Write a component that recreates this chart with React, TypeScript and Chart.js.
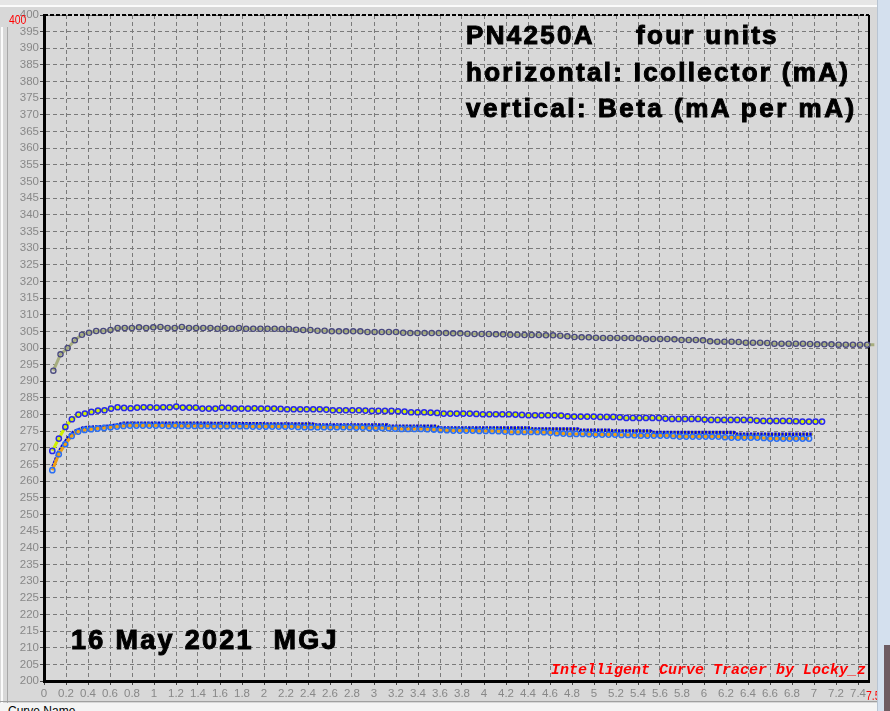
import React, { useEffect, useRef } from "react";
import { Chart, registerables } from "chart.js";

Chart.register(...registerables);

// ---- axes ----
const X_MIN = 0;
const X_MAX = 7.5;
const X_STEP = 0.2;
const Y_MIN = 200;
const Y_MAX = 400;
const Y_STEP = 5;

// ---- unit 1 (top curve, olive line) : Ic sampling start/step (mA), beta values ----
const UNIT1_IC_START = 0.085;
const UNIT1_IC_STEP = 0.0649;
const UNIT1_BETA = [
  293.2, 298.1, 300.0, 302.3, 304.0, 304.6, 305.1, 305.1, 305.4, 306.0,
  306.0, 306.0, 306.2, 306.0, 306.2, 306.3, 306.0, 306.0, 306.3, 306.0,
  306.0, 306.0, 306.0, 305.8, 306.0, 305.8, 306.0, 305.8, 305.8, 305.8,
  305.8, 305.8, 305.7, 305.7, 305.5, 305.4, 305.4, 305.2, 305.2, 305.0,
  305.0, 305.0, 305.0, 305.0, 304.8, 304.8, 304.8, 304.8, 304.8, 304.6,
  304.5, 304.5, 304.5, 304.5, 304.5, 304.5, 304.4, 304.4, 304.3, 304.2,
  304.2, 304.2, 304.1, 304.1, 304.0, 304.0, 303.9, 303.9, 303.9, 303.8,
  303.8, 303.7, 303.5, 303.3, 303.2, 303.2, 303.1, 303.0, 303.0, 303.0,
  303.0, 303.0, 302.9, 302.7, 302.7, 302.7, 302.7, 302.6, 302.4, 302.4,
  302.4, 302.3, 302.0, 301.9, 301.9, 301.9, 301.8, 301.6, 301.6, 301.6,
  301.5, 301.3, 301.3, 301.3, 301.3, 301.3, 301.2, 301.1, 301.1, 301.1,
  301.0, 301.0, 301.0, 301.0, 301.0, 301.0,
];

// ---- unit 2 (yellow-green line) ----
const UNIT2_IC_START = 0.0756;
const UNIT2_IC_STEP = 0.0593;
const UNIT2_BETA = [
  269.1, 272.8, 276.3, 278.6, 280.0, 280.3, 280.8, 281.2, 281.3, 281.8,
  282.2, 282.0, 281.9, 282.1, 282.2, 282.2, 282.1, 282.2, 282.2, 282.4,
  282.1, 282.1, 282.1, 281.8, 281.8, 281.8, 282.1, 282.0, 281.8, 281.8,
  281.8, 281.9, 281.8, 281.8, 281.8, 281.7, 281.6, 281.6, 281.6, 281.6,
  281.6, 281.6, 281.5, 281.3, 281.3, 281.3, 281.3, 281.3, 281.2, 281.1,
  281.1, 281.1, 281.1, 281.0, 280.9, 280.7, 280.7, 280.7, 280.6, 280.5,
  280.3, 280.3, 280.3, 280.3, 280.3, 280.2, 280.1, 280.1, 280.1, 280.1,
  280.1, 280.0, 279.9, 279.8, 279.8, 279.8, 279.8, 279.8, 279.7, 279.5,
  279.4, 279.4, 279.4, 279.4, 279.3, 279.3, 279.3, 279.2, 279.0, 279.0,
  279.0, 279.0, 279.0, 279.0, 278.8, 278.7, 278.7, 278.7, 278.7, 278.7,
  278.5, 278.4, 278.4, 278.4, 278.4, 278.4, 278.4, 278.4, 278.2, 278.1,
  278.1, 278.1, 278.1, 278.1, 278.0, 277.9, 277.9, 277.9, 277.9,
];

// ---- unit 3 (orange line) ----
const UNIT3_IC_START = 0.0756;
const UNIT3_IC_STEP = 0.0588;
const UNIT3_BETA = [
  263.3, 268.1, 271.1, 273.6, 274.9, 275.4, 275.6, 275.8, 276.0, 276.2,
  276.4, 276.6, 276.7, 276.7, 276.7, 276.7, 276.7, 276.7, 276.6, 276.7,
  276.6, 276.6, 276.6, 276.6, 276.6, 276.5, 276.5, 276.5, 276.5, 276.5,
  276.5, 276.4, 276.4, 276.4, 276.4, 276.4, 276.4, 276.4, 276.3, 276.2,
  276.2, 276.2, 276.2, 276.2, 276.2, 276.2, 276.2, 276.1, 276.1, 276.0,
  276.0, 276.0, 275.9, 275.8, 275.7, 275.7, 275.7, 275.7, 275.6, 275.5,
  275.4, 275.3, 275.2, 275.2, 275.2, 275.2, 275.1, 275.1, 275.1, 275.0,
  274.9, 274.8, 274.8, 274.8, 274.8, 274.8, 274.7, 274.6, 274.4, 274.3,
  274.2, 274.2, 274.2, 274.1, 274.0, 274.0, 274.0, 274.0, 273.9, 273.9,
  273.8, 273.7, 273.7, 273.7, 273.7, 273.7, 273.6, 273.4, 273.4, 273.4,
  273.4, 273.4, 273.4, 273.4, 273.2, 273.1, 273.1, 273.1, 273.1, 273.1,
  273.0, 272.8, 272.8, 272.8, 272.8, 272.8, 272.8, 272.8,
];

// ---- unit 4 (blue dashed line) ----
const UNIT4_IC = [
  0.082, 0.112, 0.137, 0.167, 0.198, 0.228, 0.273, 0.31, 0.355, 0.401,
  0.508, 0.61, 0.665, 0.72, 0.98, 1.41, 2.05, 2.44, 2.46, 3.12,
  3.14, 3.57, 3.59, 4.42, 4.44, 4.85, 4.87, 5.15, 5.17, 5.51,
  5.53, 6.27, 6.29, 6.99,
];
const UNIT4_BETA = [
  264.4, 266.9, 268.9, 270.5, 272.0, 273.4, 274.9, 275.4, 276.0, 276.2,
  276.3, 276.6, 276.9, 277.4, 277.4, 277.4, 277.2, 277.2, 276.9, 276.9,
  276.5, 276.5, 276.0, 276.0, 275.7, 275.7, 275.3, 275.3, 275.1, 275.1,
  274.6, 274.6, 274.1, 274.1,
];

// ---- texts ----
const TITLE_PART = "PN4250A";
const TITLE_UNITS = "four units";
const LINE_H = "horizontal: Icollector (mA)";
const LINE_V = "vertical: Beta (mA per mA)";
const DATE_TEXT = "16 May 2021  MGJ";
const CREDIT_TEXT = "Intelligent Curve Tracer by Locky_z";
const Y_MAX_LABEL = "400";
const X_MAX_LABEL = "7.5";
const STATUS_TEXT = "Curve Name";

const sampled = (start: number, step: number, beta: number[]) =>
  beta.map((b, i) => ({ x: start + i * step, y: b }));

const paired = (xs: number[], ys: number[]) => xs.map((x, i) => ({ x, y: ys[i] }));

const framePlugin = {
  id: "frame",
  beforeDatasetsDraw(chart: any) {
    const { ctx, chartArea } = chart;
    const { left, right, top, bottom } = chartArea;
    ctx.save();
    ctx.strokeStyle = "#000";
    ctx.lineWidth = 2;
    ctx.setLineDash([4, 2]);
    ctx.beginPath();
    ctx.moveTo(left, top);
    ctx.lineTo(right, top);
    ctx.stroke();
    ctx.setLineDash([]);
    ctx.beginPath();
    ctx.moveTo(right, top);
    ctx.lineTo(right, bottom + 1);
    ctx.stroke();
    ctx.restore();
  },
};

const TICK_FONT = { family: '"Liberation Sans", Arial, sans-serif', size: 11.5, lineHeight: 1 };

export default function App() {
  const ref = useRef<HTMLCanvasElement | null>(null);

  useEffect(() => {
    const canvas = ref.current;
    if (!canvas) return;
    const chart = new Chart(canvas, {
      type: "line",
      data: {
        datasets: [
          {
            label: "unit 3",
            data: sampled(UNIT3_IC_START, UNIT3_IC_STEP, UNIT3_BETA),
            borderColor: "#f0a010",
            borderWidth: 3,
            pointRadius: 2.6,
            pointBorderWidth: 1.5,
            pointBorderColor: "#2a6ef2",
            pointBackgroundColor: "rgba(0,0,0,0)",
            tension: 0,
          },
          {
            label: "unit 4",
            data: paired(UNIT4_IC, UNIT4_BETA),
            borderColor: "#0808d8",
            borderWidth: 3.5,
            borderDash: [2.5, 1],
            pointRadius: 0,
            tension: 0,
          },
          {
            label: "unit 4 under",
            data: paired(UNIT4_IC, UNIT4_BETA),
            borderColor: "#e4e400",
            borderWidth: 2,
            pointRadius: 0,
            tension: 0,
          },
          {
            label: "unit 2",
            data: sampled(UNIT2_IC_START, UNIT2_IC_STEP, UNIT2_BETA),
            borderColor: "#cfef00",
            borderWidth: 3,
            pointRadius: 2.6,
            pointBorderWidth: 1.5,
            pointBorderColor: "#2828e6",
            pointBackgroundColor: "rgba(0,0,0,0)",
            tension: 0,
          },
          {
            label: "unit 1",
            data: sampled(UNIT1_IC_START, UNIT1_IC_STEP, UNIT1_BETA),
            borderColor: "#a6ad7e",
            borderWidth: 3,
            pointRadius: 2.6,
            pointBorderWidth: 1.3,
            pointBorderColor: "#48487e",
            pointBackgroundColor: "rgba(0,0,0,0)",
            tension: 0,
            clip: { left: 5, top: 5, right: 12, bottom: 5 },
          },
        ] as any,
      },
      options: {
        animation: false,
        responsive: false,
        maintainAspectRatio: false,
        devicePixelRatio: 1,
        events: [],
        layout: { padding: { left: 0, right: 21, top: 15, bottom: 0 } },
        plugins: {
          legend: { display: false },
          tooltip: { enabled: false },
          title: { display: false },
        },
        scales: {
          x: {
            type: "linear",
            min: X_MIN,
            max: X_MAX,
            ticks: {
              stepSize: X_STEP,
              autoSkip: false,
              maxRotation: 0,
              minRotation: 0,
              includeBounds: false,
              color: "#888888",
              font: TICK_FONT,
              padding: 3,
              callback: (v: any) => String(Math.round(Number(v) * 10) / 10),
            },
            grid: {
              color: "#7a7a7a",
              lineWidth: 1,
              tickLength: 4,
              tickColor: "#444",
              tickBorderDash: [],
            },
            border: { color: "#000", width: 3, dash: [4, 3] },
            afterFit: (s: any) => {
              s.height = 30;
            },
          },
          y: {
            type: "linear",
            min: Y_MIN,
            max: Y_MAX,
            ticks: {
              stepSize: Y_STEP,
              autoSkip: false,
              color: "#888888",
              font: TICK_FONT,
              padding: 1,
            },
            grid: {
              color: "#7a7a7a",
              lineWidth: 1,
              tickLength: 4,
              tickColor: "#444",
              tickBorderDash: [],
            },
            border: { color: "#000", width: 3, dash: [4, 3] },
            afterFit: (s: any) => {
              s.width = 44;
            },
          },
        },
      } as any,
      plugins: [framePlugin],
    });
    return () => chart.destroy();
  }, []);

  const bold26: React.CSSProperties = {
    position: "absolute",
    fontFamily: '"Liberation Sans", Arial, sans-serif',
    fontWeight: 700,
    fontSize: 26,
    lineHeight: "30px",
    letterSpacing: "2.3px",
    color: "#000",
    whiteSpace: "pre",
    WebkitTextStroke: "1px #000",
  };

  return (
    <div
      style={{
        position: "fixed",
        left: 0,
        top: 0,
        width: 890,
        height: 711,
        background: "#d8d8d8",
        overflow: "hidden",
      }}
    >
      {/* window chrome */}
      <div style={{ position: "absolute", left: 0, top: 0, width: 890, height: 5, background: "#e6e6e6" }} />
      <div style={{ position: "absolute", left: 0, top: 5, width: 890, height: 2, background: "#fbfbfb" }} />
      <div style={{ position: "absolute", left: 1, top: 27, width: 2, height: 676, background: "#fbfbfb" }} />
      <div style={{ position: "absolute", left: 7, top: 27, width: 1, height: 676, background: "#a8a8a8" }} />
      <canvas
        ref={ref}
        width={890}
        height={711}
        style={{ position: "absolute", left: 0, top: 0, width: 890, height: 711 }}
      />
      <div style={{ ...bold26, left: 466, top: 20.3 }}>{TITLE_PART}</div>
      <div style={{ ...bold26, left: 636, top: 20.3 }}>{TITLE_UNITS}</div>
      <div style={{ ...bold26, left: 466, top: 56.5 }}>{LINE_H}</div>
      <div style={{ ...bold26, left: 466, top: 92.7, letterSpacing: "2.5px" }}>{LINE_V}</div>
      <div style={{ ...bold26, fontSize: 27, left: 71, top: 625 }}>{DATE_TEXT}</div>
      <div
        style={{
          position: "absolute",
          left: 551,
          top: 661.5,
          fontFamily: '"Liberation Mono", "Courier New", monospace',
          fontWeight: 700,
          fontStyle: "italic",
          fontSize: 15,
          lineHeight: "17px",
          color: "#ff0000",
          whiteSpace: "pre",
        }}
      >
        {CREDIT_TEXT}
      </div>
      <div
        style={{
          position: "absolute",
          left: 9,
          top: 13.3,
          fontFamily: '"Liberation Sans", Arial, sans-serif',
          fontSize: 13,
          lineHeight: "13px",
          color: "#ff0000",
          transform: "scaleX(0.8)",
          transformOrigin: "left top",
        }}
      >
        {Y_MAX_LABEL}
      </div>
      <div
        style={{
          position: "absolute",
          left: 866,
          top: 689.3,
          fontFamily: '"Liberation Sans", Arial, sans-serif',
          fontSize: 13,
          lineHeight: "13px",
          color: "#ff0000",
          transform: "scaleX(0.8)",
          transformOrigin: "left top",
        }}
      >
        {X_MAX_LABEL}
      </div>
      {/* right panel */}
      <div style={{ position: "absolute", left: 877, top: 0, width: 13, height: 711, background: "#d4e0ee", borderLeft: "1px solid #b8c4d2" }} />
      <div style={{ position: "absolute", left: 884, top: 645, width: 6, height: 66, background: "#6e5c62" }} />
      {/* status strip */}
      <div style={{ position: "absolute", left: 0, top: 701, width: 877, height: 1, background: "#a0a0a0" }} />
      <div
        style={{
          position: "absolute",
          left: 0,
          top: 703,
          width: 877,
          height: 8,
          background: "#f4f4f4",
          overflow: "hidden",
        }}
      >
        <div
          style={{
            position: "absolute",
            left: 8,
            top: 1,
            fontFamily: '"Liberation Sans", Arial, sans-serif',
            fontSize: 12,
            lineHeight: "14px",
            color: "#000",
            whiteSpace: "pre",
          }}
        >
          {STATUS_TEXT}
        </div>
      </div>
    </div>
  );
}
